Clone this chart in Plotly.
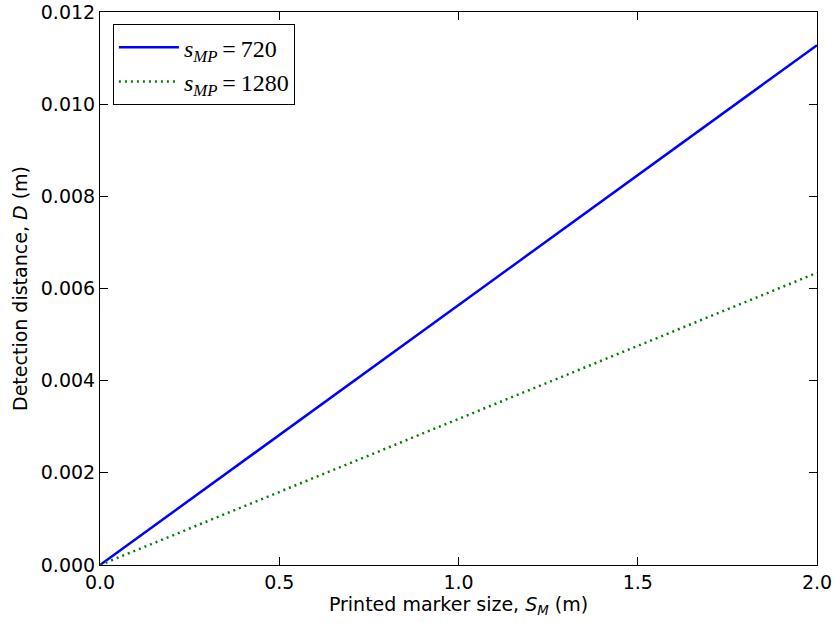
import plotly.graph_objects as go

marker_size = [0.0, 2.0]
dist_720 = [0.0, 0.01128]
dist_1280 = [0.0, 0.00634]
x_ticks = [0.0, 0.5, 1.0, 1.5, 2.0]
y_ticks = [0.000, 0.002, 0.004, 0.006, 0.008, 0.010, 0.012]

fig = go.Figure()
fig.add_trace(go.Scatter(x=marker_size, y=dist_720, mode="lines",
                         line=dict(color="#0000ff", width=2.5),
                         name="<i>s<sub>MP</sub></i>\u2009=\u2009720"))
fig.add_trace(go.Scatter(x=marker_size, y=dist_1280, mode="lines",
                         line=dict(color="#008000", width=2.5, dash="2px,4px"),
                         name="<i>s<sub>MP</sub></i>\u2009=\u20091280"))

axis_common = dict(showgrid=False, zeroline=False, showline=True, linecolor="black",
                   linewidth=1, mirror="allticks", ticks="inside", ticklen=8,
                   tickcolor="black", automargin=False,
                   tickfont=dict(family="DejaVu Sans", size=19, color="black"))

fig.update_layout(
    width=834, height=623,
    margin=dict(l=100, r=17, t=12, b=58),
    plot_bgcolor="white", paper_bgcolor="white",
    font=dict(family="DejaVu Sans", size=19, color="black"),
    xaxis=dict(range=[0, 2], tickvals=x_ticks, tickformat=".1f",
               title=dict(text="Printed marker size, <i>S<sub>M</sub></i> (m)", standoff=4,
                          font=dict(size=19)),
               **axis_common),
    yaxis=dict(range=[0, 0.012], tickvals=y_ticks, tickformat=".3f",
               title=dict(text="Detection distance, <i>D</i> (m)", standoff=8,
                          font=dict(size=19)),
               **axis_common),
    legend=dict(x=0.018, y=0.978, xanchor="left", yanchor="top",
                bordercolor="black", borderwidth=1, bgcolor="white",
                font=dict(family="Liberation Serif", size=24),
                itemwidth=60, tracegroupgap=0),
    showlegend=True,
)

fig.write_html("out.html")
